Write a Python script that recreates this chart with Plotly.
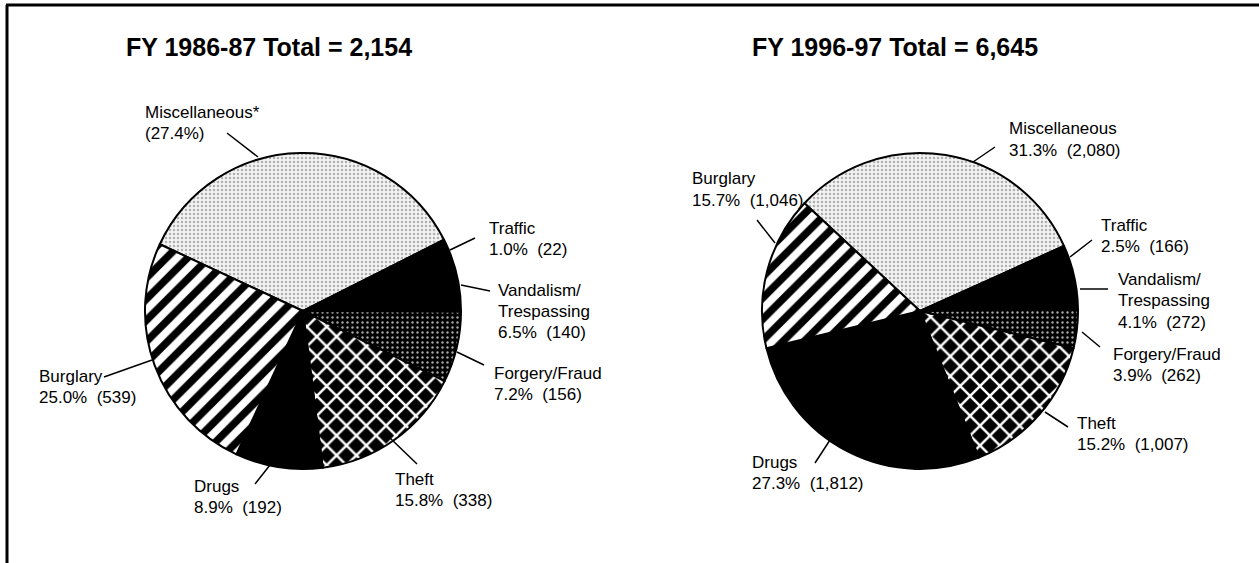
import plotly.graph_objects as go

W, H = 1259, 563

# ---------------- data ----------------
categories = ["Miscellaneous", "Traffic", "Vandalism/Trespassing", "Forgery/Fraud",
              "Theft", "Drugs", "Burglary"]
counts_8687 = [767, 22, 140, 156, 338, 192, 539]
counts_9697 = [2080, 166, 272, 262, 1007, 1812, 1046]
pct_8687 = ["27.4%", "1.0%", "6.5%", "7.2%", "15.8%", "8.9%", "25.0%"]
pct_9697 = ["31.3%", "2.5%", "4.1%", "3.9%", "15.2%", "27.3%", "15.7%"]
titles = ["FY 1986-87 Total = 2,154", "FY 1996-97 Total = 6,645"]

# ---------------- styles ----------------
bg_colors = ["#f3f3f3", "black", "black", "black", "black", "black", "white"]
pat_shape = [".", "", "", ".", "x", "", "/"]
pat_fg = ["#b0b0b0", "black", "black", "#a8a8a8", "white", "black", "black"]
pat_size = [4, 8, 8, 5, 14, 8, 15]
pat_sol = [0.3, 0.3, 0.3, 0.18, 0.32, 0.3, 0.5]

FONT = "Arial, Liberation Sans, sans-serif"
LABEL_SIZE = 17
TITLE_SIZE = 25


def px_x(x):
    return x / W


def px_y(y):
    return 1 - y / H


# pie geometry (pixels): centre x, centre y, radius, rotation
pies = [
    dict(cx=303, cy=311, r=158, rot=-65),
    dict(cx=920, cy=311, r=158, rot=-47),
]


def fmt(p, c):
    return f"{p}\u00a0\u00a0({c:,})"


# (lines, text left x, first-line centre y, leader x0,y0,x1,y1) in pixels
labels_left = [
    (["Miscellaneous*", f"({pct_8687[0]})"], 143, 112, (227, 133, 258, 157)),
    (["Traffic", fmt(pct_8687[1], counts_8687[1])], 487, 228, (450, 250, 475, 238)),
    (["Vandalism/", "Trespassing", fmt(pct_8687[2], counts_8687[2])], 496, 290, (461, 285, 490, 291)),
    (["Forgery/Fraud", fmt(pct_8687[3], counts_8687[3])], 492, 373, (457, 352, 484, 365)),
    (["Theft", fmt(pct_8687[4], counts_8687[4])], 393, 479, (390, 438, 417, 464)),
    (["Drugs", fmt(pct_8687[5], counts_8687[5])], 192, 486, (255, 484, 270, 465)),
    (["Burglary", fmt(pct_8687[6], counts_8687[6])], 37, 376, (104, 377, 152, 360)),
]
labels_right = [
    (["Miscellaneous", fmt(pct_9697[0], counts_9697[0])], 1007, 129, (995, 147, 973, 162)),
    (["Traffic", fmt(pct_9697[1], counts_9697[1])], 1099, 225, (1070, 257, 1092, 240)),
    (["Vandalism/", "Trespassing", fmt(pct_9697[2], counts_9697[2])], 1116, 279, (1080, 289, 1108, 289)),
    (["Forgery/Fraud", fmt(pct_9697[3], counts_9697[3])], 1111, 354, (1082, 332, 1100, 347)),
    (["Theft", fmt(pct_9697[4], counts_9697[4])], 1075, 423, (1045, 412, 1068, 427)),
    (["Drugs", fmt(pct_9697[5], counts_9697[5])], 750, 462, (815, 463, 830, 440)),
    (["Burglary", fmt(pct_9697[6], counts_9697[6])], 690, 179, (757, 220, 775, 243)),
]
title_pos = [(124, 47), (750, 47)]
LINE_H = 21.5

fig = go.Figure()
for p, vals, nm in zip(pies, [counts_8687, counts_9697], ["FY 1986-87", "FY 1996-97"]):
    fig.add_trace(go.Pie(
        labels=categories, values=vals, sort=False, direction="clockwise",
        rotation=p["rot"], textinfo="none", hoverinfo="label+value+percent",
        showlegend=False, name=nm,
        domain=dict(x=[px_x(p["cx"] - p["r"]), px_x(p["cx"] + p["r"])],
                    y=[px_y(p["cy"] + p["r"]), px_y(p["cy"] - p["r"])]),
        marker=dict(colors=bg_colors,
                    line=dict(color="black", width=2),
                    pattern=dict(shape=pat_shape, fgcolor=pat_fg, bgcolor=bg_colors,
                                 size=pat_size, solidity=pat_sol, fillmode="replace")),
    ))

annotations = []
shapes = []
for labels in (labels_left, labels_right):
    for lines, lx, ly, (x0, y0, x1, y1) in labels:
        for i, t in enumerate(lines):
            annotations.append(dict(
                x=px_x(lx), y=px_y(ly + i * LINE_H), xref="paper", yref="paper",
                text=t, showarrow=False, xanchor="left", yanchor="middle",
                font=dict(family=FONT, size=LABEL_SIZE, color="black")))
        shapes.append(dict(type="line", xref="paper", yref="paper",
                           x0=px_x(x0), y0=px_y(y0), x1=px_x(x1), y1=px_y(y1),
                           line=dict(color="black", width=1.5)))

for t, (tx, ty) in zip(titles, title_pos):
    annotations.append(dict(
        x=px_x(tx), y=px_y(ty), xref="paper", yref="paper",
        text=f"<b>{t}</b>", showarrow=False, xanchor="left", yanchor="middle",
        font=dict(family=FONT, size=TITLE_SIZE, color="black")))

# frame (top and left edges)
shapes.append(dict(type="line", xref="paper", yref="paper",
                   x0=px_x(6), y0=px_y(5), x1=1, y1=px_y(5),
                   line=dict(color="black", width=3)))
shapes.append(dict(type="line", xref="paper", yref="paper",
                   x0=px_x(7), y0=px_y(5), x1=px_x(7), y1=0,
                   line=dict(color="black", width=3)))

fig.update_layout(
    width=W, height=H, margin=dict(l=0, r=0, t=0, b=0),
    paper_bgcolor="white", plot_bgcolor="white",
    annotations=annotations, shapes=shapes,
)

fig.write_html("out.html", config={"displayModeBar": False},
               post_script="document.body.style.margin='0';document.body.style.overflow='hidden';")
